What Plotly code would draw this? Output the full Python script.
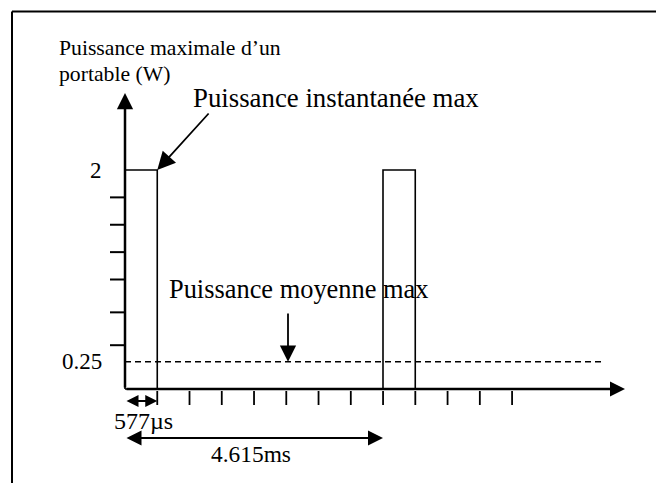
import plotly.graph_objects as go

# ---------------- data ----------------
slot_us = 577                 # durée d'un slot (µs)
frame_us = 4615               # durée d'une trame (µs)
peak_power_W = 2.0            # puissance instantanée max
mean_power_W = 0.25           # puissance moyenne max
pulse_start_us = [0, 4615]    # débuts des impulsions émises
x_tick_slot_index = [1, 2, 3, 4, 5, 6, 7, 8, 9, 10, 11, 12]
y_minor_ticks_W = [1.75, 1.5, 1.25, 1.0, 0.7, 0.4]
y_tick_values_W = [2.0, 0.25]
y_tick_labels = ["2", "0.25"]

# ---------------- scale (pixel mapping of the drawing) ----------------
W, H = 656, 483
PX_X0 = 125.0                 # pixel of t = 0
PX_PER_US = 258.0 / 4615.0
PX_Y0 = 389.0                 # pixel of P = 0
PX_PER_W = 109.5


def X(px):
    return (px - PX_X0) / PX_PER_US


def Y(py):
    return (PX_Y0 - py) / PX_PER_W


FONT = "Liberation Serif"
BLACK = "#000000"

x_axis_end_us = X(625)
y_axis_end_W = Y(93)
dash_end_us = X(603)

fig = go.Figure()

# pulses (rectangles)
px_, py_ = [], []
for s in pulse_start_us:
    px_ += [s, s, s + slot_us, s + slot_us, s, None]
    py_ += [0, peak_power_W, peak_power_W, 0, 0, None]
fig.add_trace(go.Scatter(x=px_, y=py_, mode="lines",
                         line=dict(color=BLACK, width=1.6),
                         hoverinfo="skip", showlegend=False))

# mean power dashed line
fig.add_trace(go.Scatter(x=[0, dash_end_us], y=[mean_power_W, mean_power_W],
                         mode="lines",
                         line=dict(color=BLACK, width=1.5, dash="6px,4px"),
                         hoverinfo="skip", showlegend=False))

# x ticks (slot boundaries)
tx, ty = [], []
for k in x_tick_slot_index:
    tx += [k * slot_us, k * slot_us, None]
    ty += [Y(391), Y(405), None]
fig.add_trace(go.Scatter(x=tx, y=ty, mode="lines",
                         line=dict(color=BLACK, width=1.8),
                         hoverinfo="skip", showlegend=False))

# y ticks (unlabelled)
ux, uy = [], []
for v in y_minor_ticks_W:
    ux += [X(110), 0, None]
    uy += [v, v, None]
fig.add_trace(go.Scatter(x=ux, y=uy, mode="lines",
                         line=dict(color=BLACK, width=2),
                         hoverinfo="skip", showlegend=False))

ann = []


def arrow(x, y, ax, ay, width, size, both=False):
    d = dict(x=x, y=y, ax=ax, ay=ay, xref="x", yref="y", axref="x", ayref="y",
             text="", showarrow=True, arrowhead=2, arrowsize=size,
             arrowwidth=width, arrowcolor=BLACK, standoff=0, startstandoff=0)
    if both:
        d.update(arrowside="end+start", startarrowhead=2, startarrowsize=size)
    ann.append(d)


def label(text, x, y, size, xanchor="left"):
    ann.append(dict(x=x, y=y, xref="x", yref="y", text=text, showarrow=False,
                    xanchor=xanchor, yanchor="middle",
                    font=dict(family=FONT, size=size, color=BLACK)))


# axes with arrows
arrow(x_axis_end_us, 0, 0, 0, 2.5, 1.2)
arrow(0, y_axis_end_W, 0, 0, 2.5, 1.3)

# annotation arrows
arrow(slot_us, peak_power_W, X(210), Y(112), 1.8, 2.0)
arrow(X(288), mean_power_W, X(288), Y(312), 1.8, 1.8)
arrow(slot_us, Y(401), 0, Y(401), 2, 1.2, both=True)
arrow(frame_us, Y(438), 0, Y(438), 2, 1.5, both=True)

# texts
label("Puissance maximale d’un", X(57), Y(55 - 0.34 * 21.7), 21.7)
label("portable (W)", X(57), Y(81.5 - 0.34 * 21.7), 21.7)
label("Puissance instantanée max", X(191), Y(106.7 - 0.34 * 26.8), 26.8)
label("Puissance moyenne max", X(167), Y(298 - 0.34 * 26.4), 26.4)
label("577µs", X(112), Y(429.3 - 0.34 * 24), 24)
label("4.615ms", X(209), Y(461.7 - 0.34 * 23.4), 23.4)
for v, t in zip(y_tick_values_W, y_tick_labels):
    label(t, X(104), v, 23, xanchor="right")

fig.update_layout(
    width=W, height=H,
    margin=dict(l=0, r=0, t=0, b=0, pad=0),
    paper_bgcolor="white", plot_bgcolor="white",
    showlegend=False,
    font=dict(family=FONT, color=BLACK),
    xaxis=dict(visible=False, range=[X(0), X(W)], fixedrange=True),
    yaxis=dict(visible=False, range=[Y(H), Y(0)], fixedrange=True),
    annotations=ann,
    shapes=[
        dict(type="line", xref="paper", yref="paper",
             x0=12 / W, x1=1.0, y0=1 - 11.5 / H, y1=1 - 11.5 / H,
             line=dict(color=BLACK, width=2)),
        dict(type="line", xref="paper", yref="paper",
             x0=12 / W, x1=12 / W, y0=0, y1=1 - 11.5 / H,
             line=dict(color=BLACK, width=2)),
    ],
)

fig.write_html("out.html", config={"displayModeBar": False},
               post_script="document.body.style.margin='0';"
                           "document.body.style.overflow='hidden';")
